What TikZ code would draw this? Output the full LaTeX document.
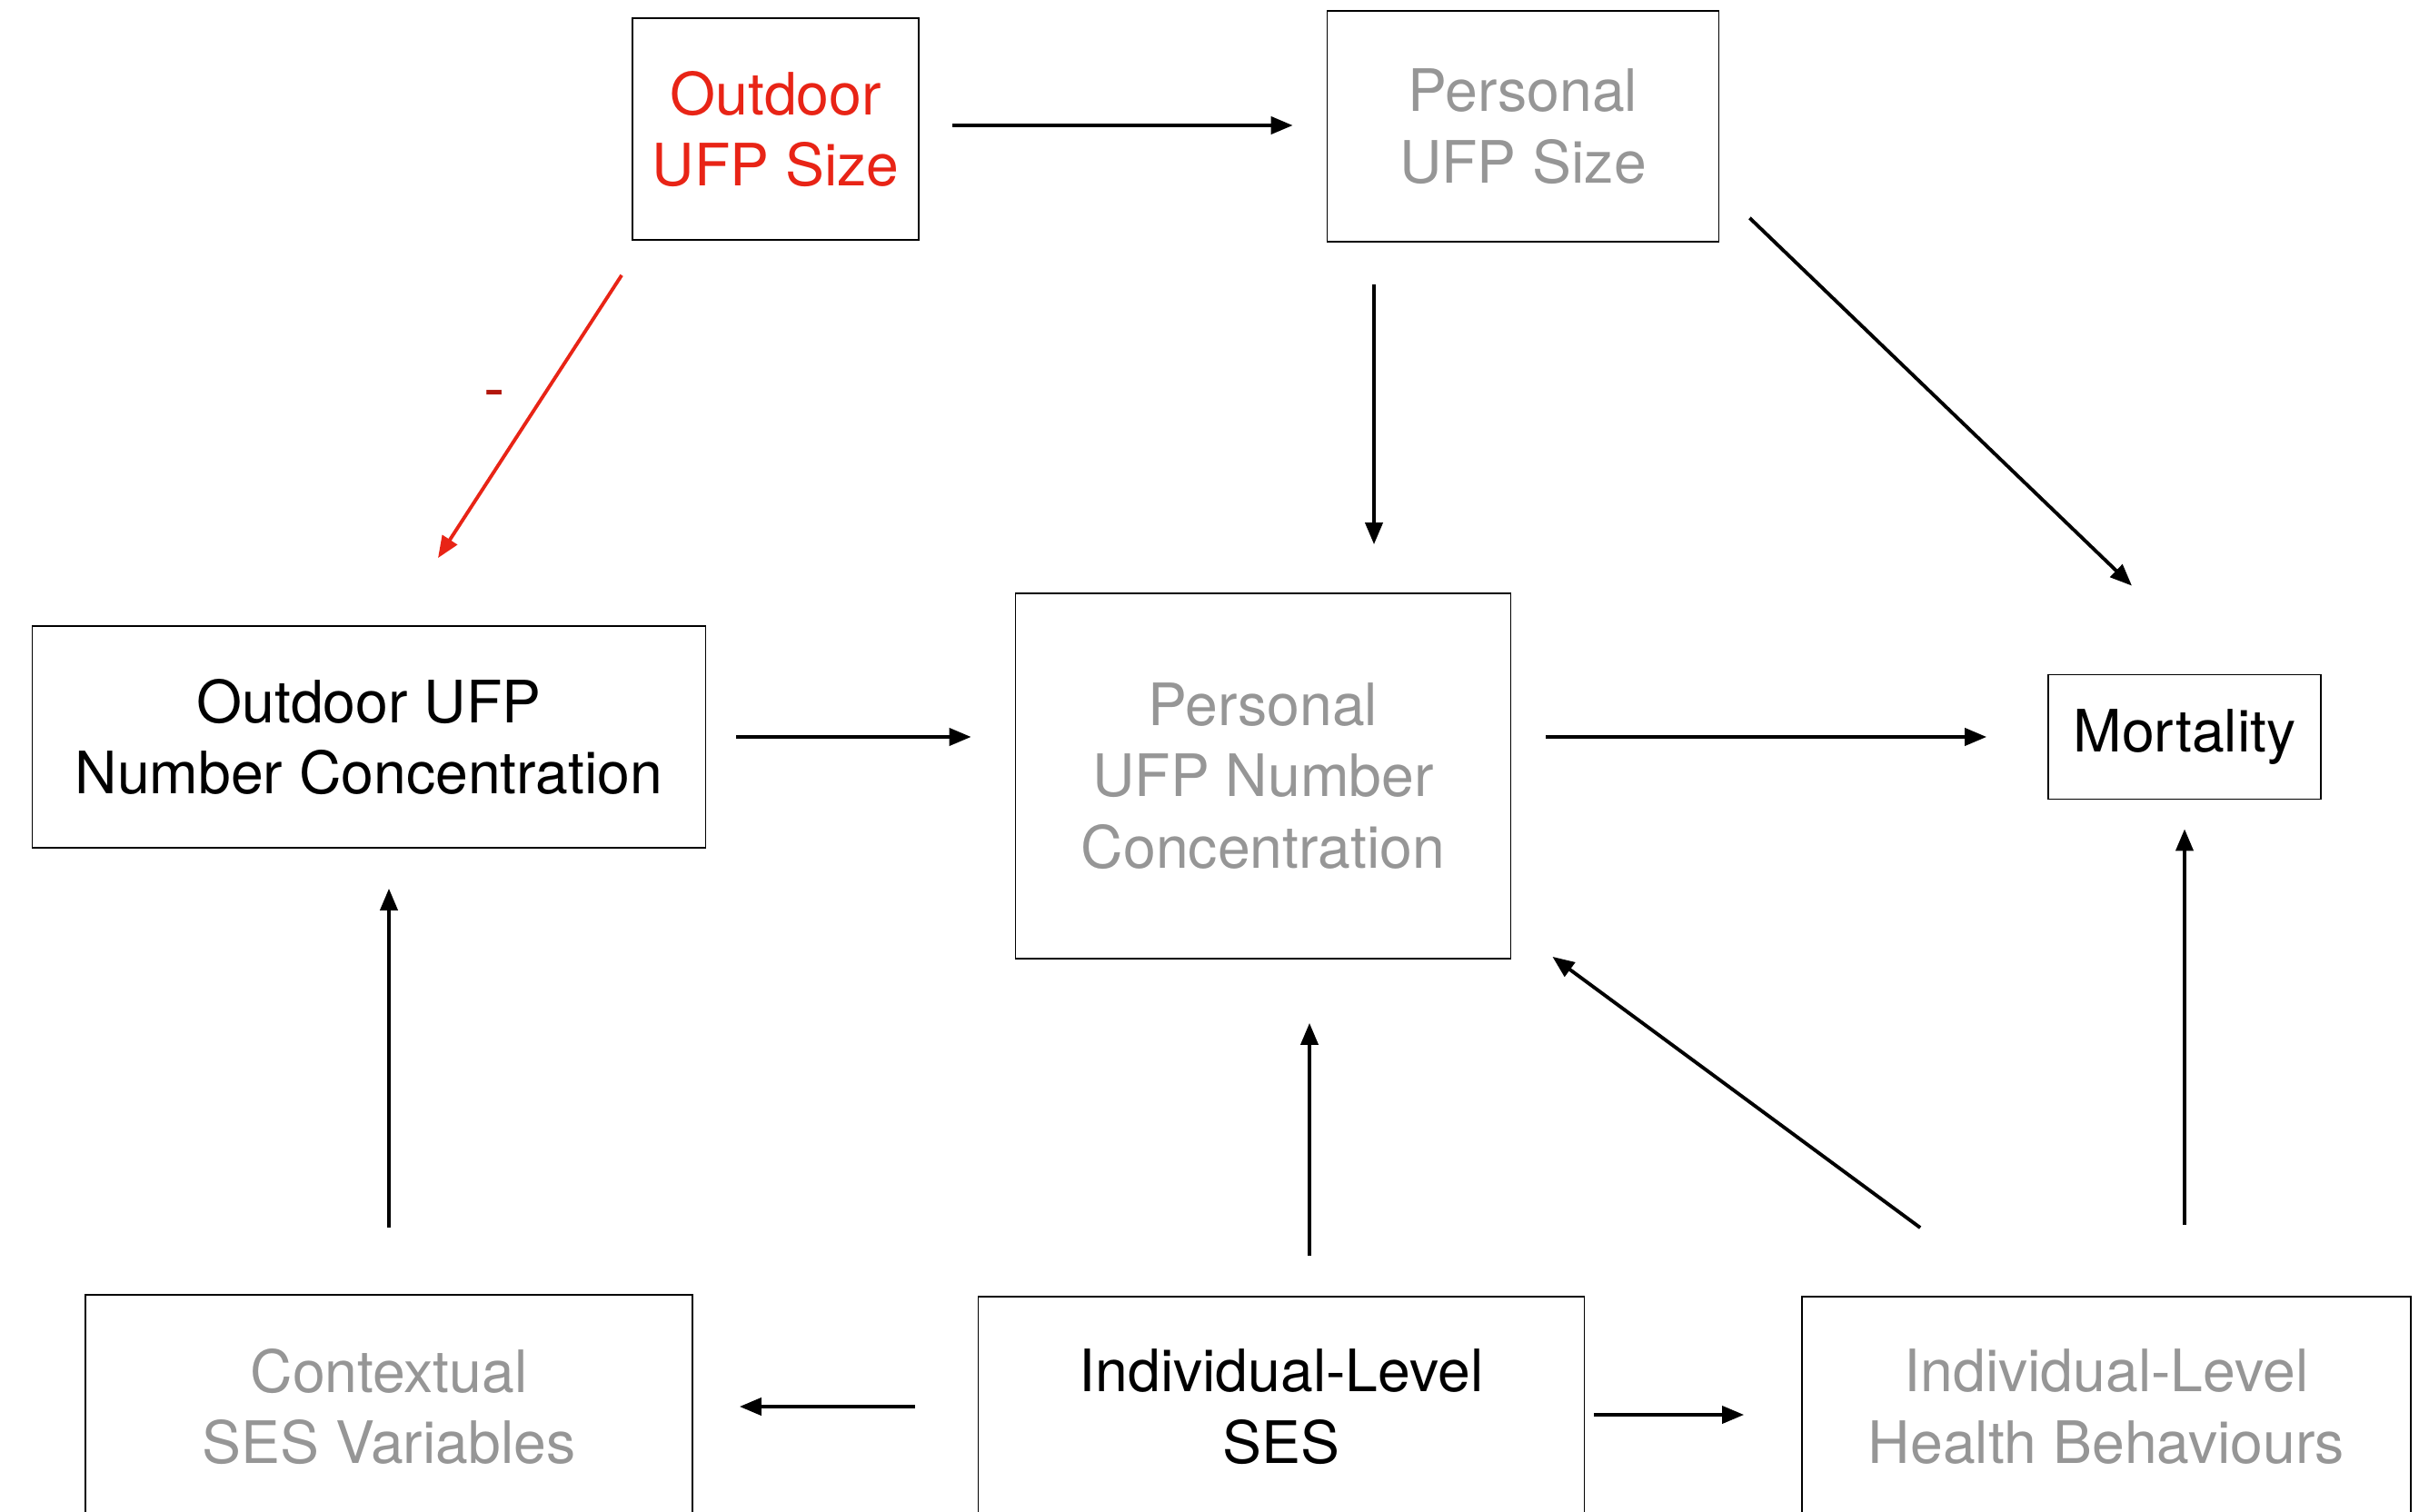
\documentclass[tikz,border=0pt]{standalone}
\usepackage{fontspec}
\setmainfont{TeX Gyre Heros}
\usetikzlibrary{calc,arrows.meta}
\definecolor{ufpred}{RGB}{232,36,22}
\definecolor{ufpdark}{RGB}{178,22,12}
\definecolor{ufpgrey}{RGB}{150,150,150}

\begin{document}
\begin{tikzpicture}[
  box/.style={rectangle,draw,line width=0.5pt,align=center,inner sep=0pt,
    font=\fontsize{18.3}{22.4}\selectfont},
  measured/.style={box,text=black},
  latent/.style={box,text=ufpgrey},
  exposure/.style={box,text=ufpred},
  arr/.style={line width=1.1pt,-{Triangle[length=0.24cm,width=0.19cm]}},
  redarr/.style={arr,draw=ufpred}]
    \useasboundingbox (0,0) rectangle (26.73,-16.64);
    % Top row
    \node[exposure,minimum width=3.15cm,minimum height=2.44cm] (osize) at (8.535,-1.42) {Outdoor\\UFP Size};
    \node[latent,minimum width=4.31cm,minimum height=2.54cm] (psize) at (16.76,-1.39) {Personal\\UFP Size};
    % Middle row
    \node[measured,minimum width=7.41cm,minimum height=2.44cm] (onum) at (4.06,-8.11) {Outdoor UFP\\Number Concentration};
    \node[latent,minimum width=5.45cm,minimum height=4.02cm] (pnum) at (13.90,-8.54) {Personal\\UFP Number\\Concentration};
    \node[measured,minimum width=3.00cm,minimum height=1.37cm] (mort) at (24.04,-8.11) {Mortality};
    % Bottom row
    \node[latent,minimum width=6.68cm,minimum height=2.46cm] (ctx) at (4.28,-15.48) {Contextual\\SES Variables};
    \node[measured,minimum width=6.67cm,minimum height=2.42cm] (ises) at (14.10,-15.48) {Individual-Level\\SES};
    \node[latent,minimum width=6.70cm,minimum height=2.42cm] (hb) at (23.18,-15.48) {Individual-Level\\Health Behaviours};
    % Sign of the outdoor size effect
    \node[text=ufpdark,font=\fontsize{20}{24}\selectfont] (minus) at (5.44,-4.41) {-};
    % Arrows
    \draw[arr,shorten <=0.36cm,shorten >=0.37cm] ([yshift=0.04cm]osize.east) -- ([yshift=0.04cm]osize.east -| psize.west);
    \draw[redarr] ($(osize.south west)+(-0.11,-0.38)$) -- ($(onum.north)+(0.76,0.74)$);
    \draw[arr] ($(psize.south)+(-1.64,-0.46)$) coordinate (pdown) -- ($(pdown |- pnum.north)+(0,0.53)$);
    \draw[arr] ($(psize.south east)+(0.33,0.27)$) -- ($(mort.north)+(-0.58,0.97)$);
    \draw[arr,shorten <=0.33cm,shorten >=0.48cm] (onum.east) -- (onum.east -| pnum.west);
    \draw[arr,shorten <=0.38cm,shorten >=0.67cm] (mort.west -| pnum.east) -- (mort.west);
    \draw[arr,shorten <=0.73cm,shorten >=0.44cm] (ctx.north) -- (ctx.north |- onum.south);
    \draw[arr,shorten <=0.44cm,shorten >=0.70cm] ($(ises.north)+(0.31,0)$) coordinate (sup) -- (sup |- pnum.south);
    \draw[arr] ($(hb.north west)+(1.31,0.75)$) -- ($(pnum.south east)+(0.45,0.03)$);
    \draw[arr,shorten <=0.78cm,shorten >=0.32cm] (mort.south |- hb.north) -- (mort.south);
    \draw[arr,shorten <=0.69cm,shorten >=0.51cm] (ises.west) -- (ctx.east);
    \draw[arr,shorten <=0.10cm,shorten >=0.63cm] ([yshift=-0.09cm]ises.east) -- ([yshift=-0.09cm]hb.west);
\end{tikzpicture}
\end{document}
